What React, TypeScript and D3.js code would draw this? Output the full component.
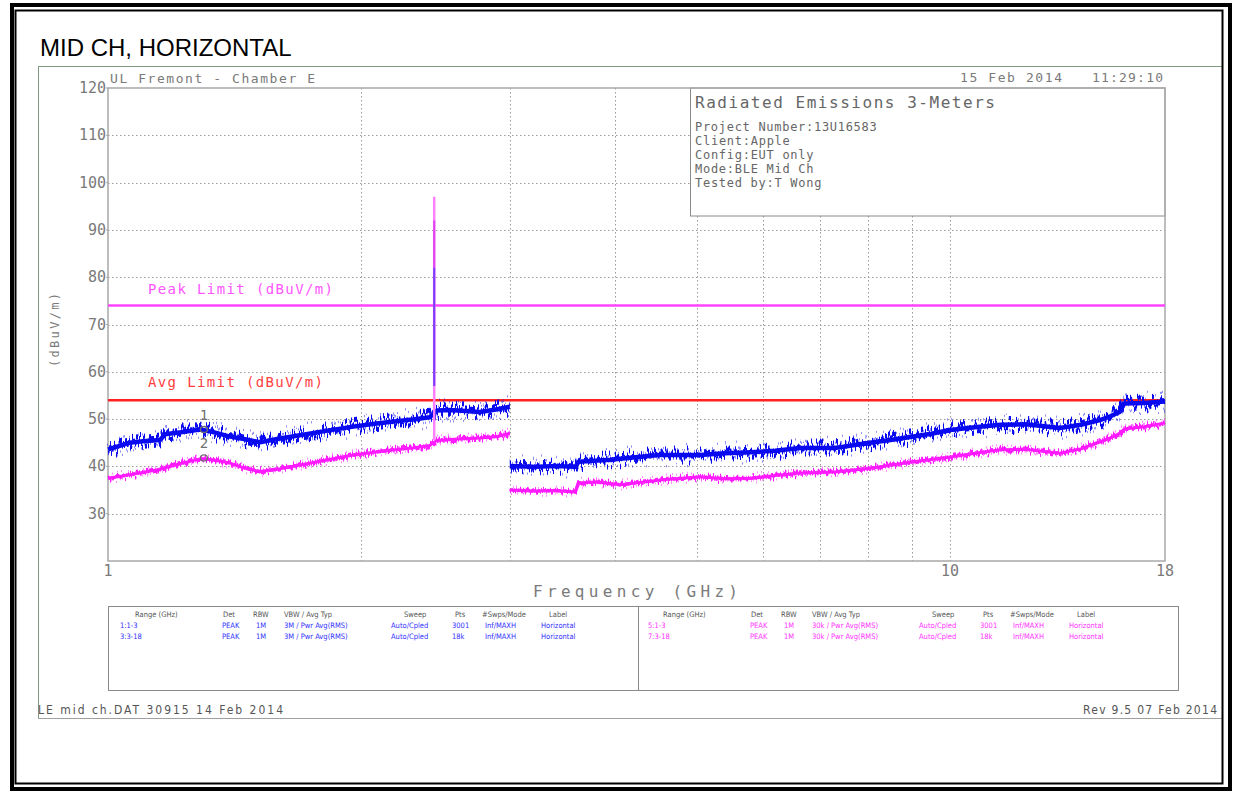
import React from 'react';
import * as d3 from 'd3';

// ---------- data ----------
const yTickValues = [30, 40, 50, 60, 70, 80, 90, 100, 110, 120];
const yGridValues = [30, 40, 50, 60, 70, 80, 90, 100, 110];
const xGridValues = [2, 3, 4, 5, 6, 7, 8, 9, 10];
const xTickValues = [1, 10, 18];

const peakLimit = 74;
const avgLimit = 54;

// trace 1 (blue, peak) 1-3 GHz
const blueLowFreq = [1.0, 1.03, 1.06, 1.1, 1.153, 1.169, 1.22, 1.286, 1.33, 1.396, 1.45, 1.515, 1.6, 1.69, 1.8, 1.937, 2.05, 2.16, 2.3, 2.41, 2.457, 2.55, 2.766, 2.9, 3.0];
const blueLowLevel = [43.6, 44.3, 45.0, 45.3, 45.6, 46.8, 47.2, 47.8, 47.3, 46.3, 45.8, 45.1, 45.9, 46.6, 47.4, 48.3, 48.9, 49.4, 49.9, 50.4, 51.8, 51.9, 51.5, 52.1, 52.6];

// trace 3 (blue, peak) 3-18 GHz
const blueHighFreq = [3.0, 3.2, 3.4, 3.59, 3.62, 3.95, 4.2, 4.52, 5.05, 5.4, 5.79, 6.2, 6.64, 7.3, 8.03, 8.5, 8.97, 9.5, 10.0, 10.7, 11.47, 12.3, 13.5, 14.3, 15.07, 15.5, 15.9, 16.1, 17.0, 18.0];
const blueHighLevel = [40.1, 39.9, 40.1, 39.9, 41.0, 41.4, 41.9, 42.4, 42.4, 42.8, 43.0, 43.3, 43.9, 43.9, 45.0, 45.6, 46.2, 46.9, 47.7, 48.3, 48.8, 48.9, 48.1, 48.8, 49.8, 50.6, 51.5, 53.3, 53.4, 53.7];

// trace 5 (magenta, average) 1-3 GHz
const magLowFreq = [1.0, 1.05, 1.1, 1.153, 1.22, 1.286, 1.33, 1.396, 1.45, 1.515, 1.6, 1.69, 1.8, 1.937, 2.05, 2.16, 2.3, 2.41, 2.457, 2.6, 2.766, 2.9, 3.0];
const magLowLevel = [37.5, 38.1, 38.7, 39.4, 40.6, 41.6, 41.4, 40.7, 39.7, 38.9, 39.5, 40.3, 41.2, 42.3, 42.9, 43.4, 43.9, 44.4, 45.5, 45.8, 46.0, 46.3, 47.0];

// trace 7 (magenta, average) 3-18 GHz
const magHighFreq = [3.0, 3.2, 3.4, 3.59, 3.62, 3.8, 4.06, 4.52, 5.05, 5.4, 5.79, 6.2, 6.64, 7.3, 8.03, 8.97, 10.0, 10.7, 11.47, 12.3, 13.0, 13.5, 14.3, 15.07, 15.5, 15.9, 16.1, 17.0, 18.0];
const magHighLevel = [35.0, 34.8, 34.9, 34.6, 36.5, 36.7, 36.1, 37.1, 37.8, 37.4, 37.5, 38.1, 38.6, 38.8, 39.6, 40.9, 42.0, 42.8, 43.5, 43.6, 43.1, 42.8, 43.7, 45.2, 46.0, 47.0, 47.9, 48.4, 49.2];

// carrier spike (2.44 GHz)
const spikeFreq = 2.44;
const spikeMagentaSpan = [45.6, 97];
const spikeMagentaCore = [57, 92];
const spikeBlueSpan = [57, 82];

// markers
const markerFreq = [1.3, 1.3];
const markerLevel = [47.8, 41.8];
const markerLabel = ['1', '2'];

// info box
const infoTitle = 'Radiated Emissions 3-Meters';
const infoLines = ['Project Number:13U16583', 'Client:Apple', 'Config:EUT only', 'Mode:BLE Mid Ch', 'Tested by:T Wong'];

// legend table
const tableHeaders = ['Range (GHz)', 'Det', 'RBW', 'VBW / Avg Typ', 'Sweep', 'Pts', '#Swps/Mode', 'Label'];
const tableLeftRows = [
  ['1:1-3', 'PEAK', '1M', '3M / Pwr Avg(RMS)', 'Auto/Cpled', '3001', 'Inf/MAXH', 'Horizontal'],
  ['3:3-18', 'PEAK', '1M', '3M / Pwr Avg(RMS)', 'Auto/Cpled', '18k', 'Inf/MAXH', 'Horizontal'],
];
const tableRightRows = [
  ['5:1-3', 'PEAK', '1M', '30k / Pwr Avg(RMS)', 'Auto/Cpled', '3001', 'Inf/MAXH', 'Horizontal'],
  ['7:3-18', 'PEAK', '1M', '30k / Pwr Avg(RMS)', 'Auto/Cpled', '18k', 'Inf/MAXH', 'Horizontal'],
];

// ---------- layout ----------
const W = 1233;
const H = 793;
const PL = 108, PR = 1165, PT = 88, PB = 561;
const headerColX = [27, 115, 145, 176, 296, 347, 374, 441];
const rowColX = [12, 114, 148, 176, 283, 344, 377, 433];
const TABLE_L = 108, TABLE_R = 1178, TABLE_T = 606, TABLE_B = 690, TABLE_MID = 638;

const MONO = "'DejaVu Sans Mono', 'Liberation Mono', monospace";
const COND = "'DejaVu Sans Condensed', 'DejaVu Sans', sans-serif";
const GRAY = '#7a7a7a';

function JitterFilter({ id, fx, seed, scale }: { id: string; fx: number; seed: number; scale: number }) {
  return (
    <filter id={id} filterUnits="userSpaceOnUse" x={90} y={60} width={1100} height={540} colorInterpolationFilters="sRGB">
      <feTurbulence type="fractalNoise" baseFrequency={`${fx} 0.004`} numOctaves={1} seed={seed} result="n" />
      <feComponentTransfer in="n" result="c">
        <feFuncG type="linear" slope={2.4} intercept={-0.7} />
      </feComponentTransfer>
      <feColorMatrix in="c" type="matrix" values="0 0 0 0 0.5  0 1 0 0 0  0 0 1 0 0  0 0 0 0 1" result="m" />
      <feDisplacementMap in="SourceGraphic" in2="m" scale={scale} xChannelSelector="R" yChannelSelector="G" />
    </filter>
  );
}

export default function App() {
  const x = d3.scaleLog().domain([1, 18]).range([PL, PR]);
  const y = d3.scaleLinear().domain([20, 120]).range([PB, PT]);
  const mk = (fs: number[], vs: number[]) =>
    d3.line<number>().x((f) => x(f)).y((_, i) => y(vs[i])).curve(d3.curveLinear)(fs) || '';

  const blueLow = mk(blueLowFreq, blueLowLevel);
  const blueHigh = mk(blueHighFreq, blueHighLevel);
  const magLow = mk(magLowFreq, magLowLevel);
  const magHigh = mk(magHighFreq, magHighLevel);

  const BLUE = '#0a0af0';
  const MAG = '#ff1aff';

  const traceGroup = (
    paths: string[],
    color: string,
    base: number,
    layers: { fid: string; w: number; o: number }[]
  ) => (
    <g>
      {layers.map((l, k) =>
        paths.map((p, i) => (
          <path key={'j' + k + '_' + i} d={p} fill="none" stroke={color} strokeWidth={l.w} filter={`url(#${l.fid})`} opacity={l.o} />
        ))
      )}
      {paths.map((p, i) => (
        <path key={'b' + i} d={p} fill="none" stroke={color} strokeWidth={base} strokeLinejoin="round" />
      ))}
    </g>
  );

  return (
    <svg width={W} height={H} style={{ position: 'absolute', left: 0, top: 0, background: '#fff' }}>
      <defs>
        <JitterFilter id="jitA" fx={0.55} seed={4} scale={15} />
        <JitterFilter id="jitB" fx={0.8} seed={11} scale={22} />
        <JitterFilter id="jitC" fx={0.6} seed={21} scale={7} />
        <JitterFilter id="jitD" fx={0.8} seed={33} scale={10} />
        <clipPath id="pageClip">
          <rect x={16} y={11} width={1206} height={772} />
        </clipPath>
      </defs>

      <g clipPath="url(#pageClip)">
        {/* outer plot sheet lines */}
        <line x1={38} y1={66.5} x2={W} y2={66.5} stroke="#7f9a7f" strokeWidth={1} />
        <line x1={38.5} y1={66} x2={38.5} y2={718} stroke="#7f9a7f" strokeWidth={1} />
        <line x1={38} y1={718.5} x2={W} y2={718.5} stroke="#a0a0a0" strokeWidth={1} />

        {/* title */}
        <text x={40} y={56} fontFamily="Arial, 'Liberation Sans', sans-serif" fontSize={24} fill="#000">MID CH, HORIZONTAL</text>

        {/* header texts */}
        <text x={110} y={83} fontFamily={MONO} fontSize={13} fill={GRAY} textLength={205} lengthAdjust="spacing">UL Fremont - Chamber E</text>
        <text x={960} y={82} fontFamily={MONO} fontSize={13} fill={GRAY} textLength={102} lengthAdjust="spacing">15 Feb 2014</text>
        <text x={1092} y={82} fontFamily={MONO} fontSize={13} fill={GRAY} textLength={71} lengthAdjust="spacing">11:29:10</text>

        {/* gridlines */}
        {yGridValues.map((v) => (
          <line key={'gy' + v} x1={PL} x2={PR} y1={Math.round(y(v)) + 0.5} y2={Math.round(y(v)) + 0.5} stroke="#9a9a9a" strokeWidth={1} strokeDasharray="1.5,2.5" />
        ))}
        {xGridValues.map((f) => (
          <line key={'gx' + f} x1={Math.round(x(f)) + 0.5} x2={Math.round(x(f)) + 0.5} y1={PT} y2={PB} stroke="#9a9a9a" strokeWidth={1} strokeDasharray="1.5,2.5" />
        ))}

        {/* info box */}
        <rect x={690.5} y={PT} width={PR - 690.5} height={128} fill="#fff" stroke="#8a8a8a" strokeWidth={1} />
        <text x={695} y={108} fontFamily={MONO} fontSize={16} fill="#666" textLength={300} lengthAdjust="spacing">{infoTitle}</text>
        {infoLines.map((t, i) => (
          <text key={t} x={695} y={131 + i * 14} fontFamily={MONO} fontSize={12} fill="#666" textLength={t.length * 7.9} lengthAdjust="spacing">{t}</text>
        ))}

        {/* axis frame */}
        <rect x={PL} y={PT} width={PR - PL} height={PB - PT} fill="none" stroke="#a8a8a8" strokeWidth={1.5} />

        {/* y tick labels */}
        {yTickValues.map((v) => (
          <text key={'yt' + v} x={106} y={y(v) + 5} textAnchor="end" fontFamily={MONO} fontSize={15} fill={GRAY}>{v}</text>
        ))}
        {yTickValues.map((v) => (
          <line key={'ytk' + v} x1={PL - 2} x2={PL} y1={y(v)} y2={y(v)} stroke="#a8a8a8" />
        ))}
        <text transform={`translate(59,330) rotate(-90)`} textAnchor="middle" fontFamily={MONO} fontSize={12} fill={GRAY} textLength={74} lengthAdjust="spacing">(dBuV/m)</text>

        {/* x tick labels */}
        {xTickValues.map((f) => (
          <text key={'xt' + f} x={x(f)} y={576} textAnchor="middle" fontFamily={MONO} fontSize={15} fill={GRAY}>{f}</text>
        ))}
        <text x={533} y={597} fontFamily={MONO} fontSize={16} fill={GRAY} textLength={205} lengthAdjust="spacing">Frequency (GHz)</text>

        {/* limits */}
        <line x1={PL} x2={PR} y1={y(peakLimit)} y2={y(peakLimit)} stroke="#ff44ff" strokeWidth={2.5} />
        <line x1={PL} x2={PR} y1={y(avgLimit)} y2={y(avgLimit)} stroke="#ff2020" strokeWidth={2.5} />
        <text x={148} y={294} fontFamily={MONO} fontSize={14} fill="#ff55ff" textLength={185} lengthAdjust="spacing">Peak Limit (dBuV/m)</text>
        <text x={148} y={387} fontFamily={MONO} fontSize={14} fill="#ff4040" textLength={175} lengthAdjust="spacing">Avg Limit (dBuV/m)</text>

        {/* traces */}
        {traceGroup([magLow, magHigh], MAG, 3, [
          { fid: 'jitD', w: 2, o: 0.5 },
          { fid: 'jitC', w: 3.5, o: 1 },
        ])}
        {traceGroup([blueLow, blueHigh], BLUE, 4.5, [
          { fid: 'jitB', w: 2.2, o: 0.45 },
          { fid: 'jitA', w: 5, o: 1 },
        ])}

        {/* spike */}
        <line x1={x(spikeFreq)} x2={x(spikeFreq)} y1={y(spikeMagentaSpan[0])} y2={y(spikeMagentaSpan[1])} stroke="#ff80ff" strokeWidth={2.5} />
        <line x1={x(spikeFreq)} x2={x(spikeFreq)} y1={y(spikeMagentaCore[0])} y2={y(spikeMagentaCore[1])} stroke="#e040f0" strokeWidth={2} />
        <line x1={x(spikeFreq)} x2={x(spikeFreq)} y1={y(spikeBlueSpan[0])} y2={y(spikeBlueSpan[1])} stroke="#7a40ff" strokeWidth={2} />

        {/* markers */}
        {markerFreq.map((f, i) => (
          <g key={'m' + i}>
            <text x={x(f)} y={y(markerLevel[i]) - 10} textAnchor="middle" fontFamily={MONO} fontSize={14} fill="#707070">{markerLabel[i]}</text>
            <ellipse cx={x(f)} cy={y(markerLevel[i])} rx={3.5} ry={3} fill="none" stroke="#707070" strokeWidth={1.3} />
          </g>
        ))}

        {/* legend table */}
        <rect x={TABLE_L + 0.5} y={TABLE_T + 0.5} width={TABLE_R - TABLE_L} height={TABLE_B - TABLE_T} fill="none" stroke="#8a8a8a" strokeWidth={1} />
        <line x1={TABLE_MID + 0.5} x2={TABLE_MID + 0.5} y1={TABLE_T} y2={TABLE_B} stroke="#8a8a8a" strokeWidth={1} />
        {[0, TABLE_MID - TABLE_L - 2].map((off, side) => (
          <g key={'tbl' + side}>
            {tableHeaders.map((h, i) => (
              <text key={'h' + i} x={TABLE_L + off + headerColX[i]} y={617} fontFamily={COND} fontSize={7.5} fill="#555">{h}</text>
            ))}
            {(side === 0 ? tableLeftRows : tableRightRows).map((row, r) => (
              row.map((c, i) => (
                <text key={'r' + r + '_' + i} x={TABLE_L + off + rowColX[i]} y={628 + r * 11} fontFamily={COND} fontSize={7.5} fill={side === 0 ? '#3030ff' : '#ff30ff'}>{c}</text>
              ))
            ))}
          </g>
        ))}

        {/* footer */}
        <text x={38} y={714} fontFamily={COND} fontSize={12} fill="#555" textLength={245} lengthAdjust="spacing">LE mid ch.DAT 30915 14 Feb 2014</text>
        <text x={1083} y={714} fontFamily={COND} fontSize={12} fill="#555" textLength={134} lengthAdjust="spacing">Rev 9.5 07 Feb 2014</text>
      </g>

      {/* page frames */}
      <rect x={12} y={5} width={1218} height={784} fill="none" stroke="#000" strokeWidth={4} />
      <rect x={15.5} y={10.5} width={1207} height={773} fill="none" stroke="#000" strokeWidth={2} />
    </svg>
  );
}
